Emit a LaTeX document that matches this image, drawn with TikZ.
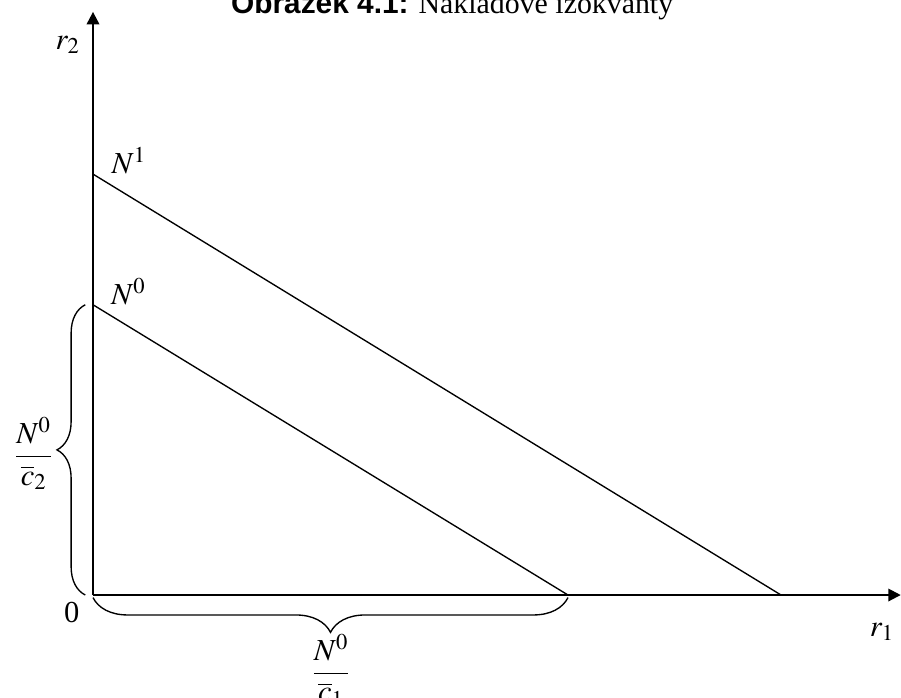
\documentclass[tikz,border=0pt]{standalone}
\usepackage{amsmath}
\usepackage{mathptmx}
\usepackage[no-math]{fontspec}
\setmainfont{Liberation Serif}
\newfontfamily\titlefont{Liberation Sans}
\usetikzlibrary{arrows.meta,decorations.pathreplacing}

\begin{document}
\begin{tikzpicture}[font=\fontsize{13.5}{16}\selectfont,
  axis/.style={line width=0.9pt, -{Triangle[length=5.5pt,width=5.5pt]}},
  isoline/.style={line width=0.6pt},
  curly/.style={decorate, decoration={brace, amplitude=#1}, line width=0.6pt}]
  \useasboundingbox (-1.445,-1.585) rectangle (12.554,9.245);

  % title
  \node[anchor=base, font=\fontsize{13.2}{16}\selectfont] (title) at (5.58,9.03)
    {{\titlefont\bfseries Obrázek 4.1:} Nákladové izokvanty};

  % axes
  \coordinate (O) at (0,0);
  \coordinate (yend) at (0,9.06);
  \coordinate (xend) at (12.55,0);
  \draw[axis] (O) -- (yend);
  \draw[axis] (O) -- (xend);
  \node (r2) at (-0.39,8.55) {$r_2$};
  \node (r1) at (12.26,-0.575) {$r_1$};
  \node (zero) at (-0.33,-0.27) {0};

  % isoquants
  \coordinate (N1top) at (0,6.54);
  \coordinate (N1bot) at (10.69,0);
  \coordinate (N0top) at (0,4.51);
  \coordinate (N0bot) at (7.38,0);
  \draw[isoline] (N1top) -- (N1bot);
  \draw[isoline] (N0top) -- (N0bot);
  \node (N1) at (0.56,6.75) {$N^1$};
  \node (N0) at (0.55,4.71) {$N^0$};

  % intercept braces
  \coordinate (lb1) at (-0.12,0);
  \coordinate (lb2) at (-0.12,4.51);
  \draw[curly=0.44cm] (lb1) -- (lb2);
  \node (c2frac) at (-0.92,2.2) {$\dfrac{N^0}{\overline{c}_2}$};
  \coordinate (bb1) at (7.38,-0.04);
  \coordinate (bb2) at (0,-0.04);
  \draw[curly=0.54cm] (bb1) -- (bb2);
  \node (c1frac) at (3.70,-1.17) {$\dfrac{N^0}{\overline{c}_1}$};
\end{tikzpicture}
\end{document}
